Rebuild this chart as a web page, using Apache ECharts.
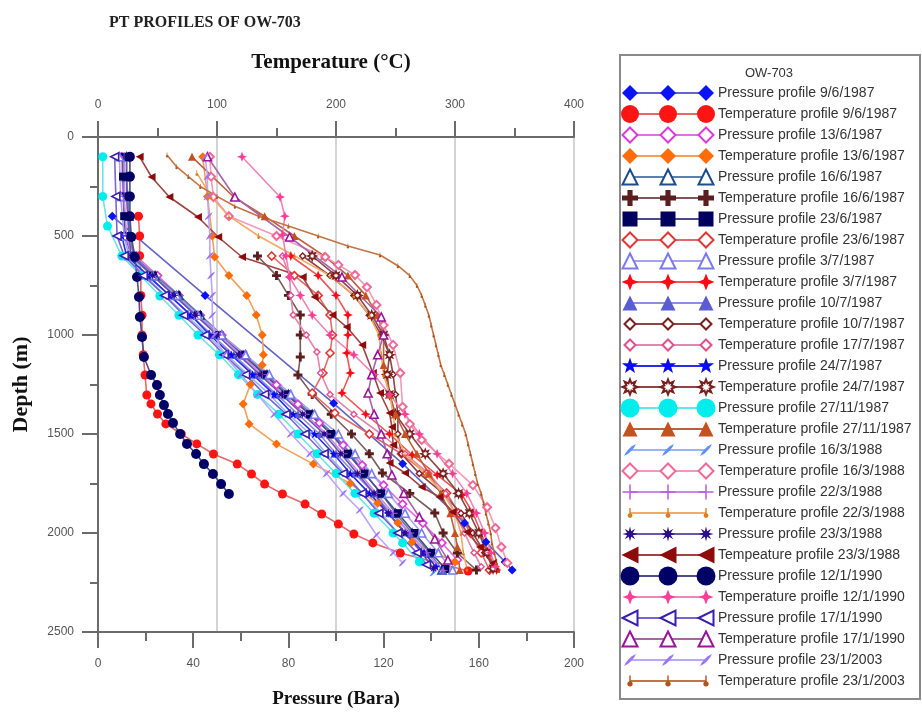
<!DOCTYPE html>
<html><head><meta charset="utf-8">
<script src="https://cdn.jsdelivr.net/npm/echarts@6/dist/echarts.min.js"></script>
<style>html,body{margin:0;padding:0;background:#fff}#c{width:922px;height:715px}</style>
</head><body><div id="c"></div>
<script>
// ---------- axis ticks ----------
const pressureTicks = [0, 40, 80, 120, 160, 200];
const temperatureTicks = [0, 100, 200, 300, 400];
const depthTicks = [0, 500, 1000, 1500, 2000, 2500];

// ---------- data: each point is [depth (m), value] ----------
const pres_9_6_1987 = [[400,6],[800,45],[1345,99],[1650,128],[1950,154],[2045,163],[2146,171],[2187,174]];
const temp_9_6_1987 = [[400,34],[500,35],[600,35],[700,36],[800,36],[900,37],[1000,37],[1100,38],[1202,39.5],[1303,41],[1348,44.5],[1399,50],[1449,57],[1500,70],[1550,83],[1601,97],[1652,117],[1702,129],[1753,140],[1803,155],[1854,174],[1904,188],[1955,202],[2005,215],[2050,231],[2101,254],[2192,311]];
const pres_13_6_1987 = [[100,10],[300,10.5],[500,11.5],[600,16],[700,25],[800,34],[900,43],[1000,52],[1100,61],[1200,70],[1252,75],[1350,84],[1444,93],[1556,103],[1657,111],[1758,120],[1854,128],[1950,136.5],[2050,144.5],[2136,151]];
const temp_13_6_1987 = [[100,88],[300,92],[500,96],[606,98],[700,110],[800,125],[899,133],[1000,138],[1100,139],[1152,138],[1250,128],[1348,122],[1449,127],[1551,150],[1652,181],[1750,212],[1850,235],[1950,252],[2045,264],[2146,300]];
const pres_16_6_1987 = [[100,12],[200,12],[300,12.5],[400,13],[500,13.5],[600,15],[700,24],[800,34],[900,43],[1000,52],[1100,62],[1200,71],[1300,80],[1400,90],[1500,99],[1600,106],[1700,112],[1800,119],[1900,125],[2000,132],[2101,139.5],[2187,144.5]];
const temp_16_6_1987 = [[601,134],[700,150],[800,160],[899,170],[1000,170],[1111,170],[1202,168],[1300,180],[1400,196],[1500,213],[1600,228],[1697,239],[1800,262],[1899,283],[2000,290],[2101,302],[2187,318]];
const pres_23_6_1987 = [[100,10.5],[200,10.5],[300,11],[400,11],[500,11.5],[600,14],[700,23],[800,33],[900,42],[1000,51],[1100,61],[1200,70],[1300,79],[1400,89],[1500,98],[1600,105],[1700,112],[1800,119],[1900,126],[2000,133],[2100,140],[2182,146]];
const temp_23_6_1987 = [[601,146],[700,165],[800,185],[899,195],[1000,197],[1091,195],[1192,189],[1293,180],[1394,199],[1500,228],[1600,255],[1700,276],[1798,293],[1899,303],[2000,313],[2100,322],[2187,329]];
const pres_3_7_1987 = [[100,9],[300,9.5],[500,11],[600,13],[700,23],[800,33],[900,42],[1000,52],[1100,62],[1200,72],[1300,81],[1400,91],[1500,101],[1600,108],[1700,115],[1800,122],[1900,129],[2000,136],[2100,143],[2187,149]];
const temp_3_7_1987 = [[601,162],[700,185],[800,200],[899,210],[1000,210],[1091,209],[1192,212],[1293,205],[1400,225],[1500,245],[1606,264],[1707,285],[1808,306],[1899,315],[2000,322],[2100,328],[2187,335]];
const pres_10_7_1987 = [[600,12],[700,21],[800,30],[900,39],[1000,48],[1100,57],[1200,66],[1300,75],[1400,84],[1500,93],[1600,100],[1700,108],[1800,116],[1900,123],[2000,131],[2100,138],[2190,145]];
const temp_10_7_1987 = [[601,172],[700,195],[800,215],[900,228],[1000,238],[1100,245],[1200,248],[1300,250],[1400,252],[1500,252],[1600,255],[1700,270],[1800,290],[1900,305],[2000,315],[2100,325],[2180,333]];
const temp_17_7_1987 = [[601,155],[707,161],[800,162],[899,164],[1000,175],[1086,184],[1192,187],[1300,195],[1400,215],[1500,238],[1600,258],[1700,278],[1800,292],[1900,300],[2000,308],[2100,316],[2170,322]];
const pres_24_7_1987 = [[500,10],[600,12],[700,21],[800,30],[900,39],[1000,47],[1100,56],[1200,65],[1300,74],[1400,82],[1500,91],[1600,99],[1700,106],[1800,114],[1900,122],[2000,129],[2100,137],[2170,142]];
const temp_24_7_1987 = [[601,180],[700,200],[800,218],[900,230],[1000,240],[1100,245],[1200,243],[1300,245],[1400,250],[1500,262],[1600,275],[1700,290],[1800,303],[1900,312],[2000,320],[2100,327],[2180,332]];
const pres_27_11_1987 = [[100,2],[300,2],[450,4],[601,10],[700,18],[803,26],[900,34],[1000,42],[1100,51],[1200,59],[1300,67],[1400,76],[1500,84],[1600,92],[1700,100],[1800,108],[1900,116],[2000,124],[2050,128],[2146,135]];
const temp_27_11_1987 = [[100,79],[303,114],[400,140],[500,165],[600,190],[700,210],[800,225],[900,235],[1000,240],[1152,240],[1300,245],[1400,250],[1500,258],[1600,268],[1700,278],[1800,288],[1900,296],[2000,300],[2071,302],[2187,304]];
const pres_16_3_1988 = [[600,11],[700,20],[800,28],[900,37],[1000,46],[1100,54],[1200,63],[1300,72],[1400,80],[1500,89],[1600,96],[1700,104],[1800,111],[1900,119],[2000,126],[2100,134],[2200,141]];
const temp_16_3_1988 = [[100,94],[200,95],[303,97],[400,110],[500,150],[606,191],[646,202],[697,216],[758,226],[848,234],[950,240],[1050,248],[1192,254],[1363,256],[1450,262],[1530,272],[1650,295],[1758,315],[1870,327],[1975,334],[2071,339],[2151,344]];
const pres_22_3_1988 = [[100,11],[300,11],[500,12],[600,14],[700,23],[800,32],[900,41],[1000,51],[1100,60],[1200,69],[1300,78],[1400,87],[1500,96],[1600,103],[1700,110],[1800,117],[1900,124],[2000,131],[2100,138],[2190,145]];
const temp_22_3_1988 = [[182,83],[300,95],[400,110],[500,135],[600,165],[700,195],[800,215],[900,228],[1000,236],[1100,238],[1200,240],[1300,245],[1400,248],[1500,250],[1600,258],[1700,275],[1800,290],[1900,300],[2000,305],[2100,307],[2180,310]];
const pres_23_3_1988 = [[100,12],[300,12],[500,13],[600,14],[700,23],[800,32],[900,41],[1000,50],[1100,59],[1200,68],[1300,77],[1400,86],[1500,95],[1600,102],[1700,109],[1800,116],[1900,122],[2000,129],[2100,136],[2180,141]];
const temp_23_3_1988 = [[100,35],[202,45],[303,60],[404,84],[505,101],[606,121],[707,172],[808,182],[899,197],[960,209],[1050,222],[1192,231],[1293,237],[1394,245],[1465,247],[1556,248],[1646,245],[1697,258],[1768,272],[1818,287],[1894,298],[1995,310],[2071,321],[2151,332]];
const pres_12_1_1990 = [[100,13.4],[200,13.4],[300,13.4],[400,13.4],[505,14],[606,15.5],[707,16.4],[808,17.2],[909,17.6],[1010,18.5],[1111,19.3],[1202,22.3],[1253,24.8],[1303,26],[1354,27.7],[1399,29.4],[1444,31.5],[1500,34.5],[1550,37.4],[1601,41.2],[1652,44.5],[1702,48.3],[1753,51.7],[1803,55]];
const temp_12_1_1990 = [[100,121],[303,153],[400,157],[495,155],[600,158],[707,161],[800,170],[900,180],[1000,195],[1100,215],[1200,232],[1300,245],[1400,258],[1500,270],[1600,285],[1700,298],[1800,310],[1900,318],[2000,325],[2100,330],[2170,334]];
const pres_17_1_1990 = [[100,7],[300,7.5],[500,8],[600,11],[700,19],[800,28],[900,36],[1000,45],[1100,53],[1200,62],[1300,70],[1400,79],[1500,87],[1600,95],[1700,103],[1800,111],[1900,118],[2000,126],[2100,134],[2160,138]];
const temp_17_1_1990 = [[100,92],[303,115],[505,161],[707,205],[909,238],[1000,240],[1100,235],[1200,230],[1293,227],[1400,232],[1500,238],[1600,243],[1707,247],[1800,257],[1919,270],[2030,283],[2136,294]];
const pres_23_1_2003 = [[100,45],[200,46],[300,46],[400,46.5],[500,47],[600,47],[700,47.5],[800,48],[900,48],[1000,49],[1100,53],[1200,60],[1300,67],[1400,74],[1500,81],[1600,89],[1700,96],[1800,103],[1884,110],[2010,117],[2100,124],[2150,128]];
const temp_23_1_2003 = [[91,58],[150,66],[200,76],[250,86],[300,100],[350,115],[400,135],[450,160],[500,185],[550,210],[596,237],[650,252],[700,262],[750,268],[800,272],[850,275],[900,278],[950,280],[1000,282],[1050,284],[1100,286],[1150,288],[1200,291],[1250,294],[1300,297],[1350,300],[1400,303],[1450,306],[1500,309],[1550,311],[1600,313],[1650,315],[1700,317],[1750,319],[1800,322],[1850,324],[1900,326],[1950,328],[2000,330],[2050,331],[2100,333],[2150,335],[2190,337]];

// ---------- legend order ----------
const legendNames = [
  'Pressure profile 9/6/1987','Temperature profile 9/6/1987',
  'Pressure profile 13/6/1987','Temperature profile 13/6/1987',
  'Pressure profile 16/6/1987','Temperature profile 16/6/1987',
  'Pressure profile 23/6/1987','Temperature profile 23/6/1987',
  'Pressure profile 3/7/1987','Temperature profile 3/7/1987',
  'Pressure profile 10/7/1987','Temperature profile 10/7/1987',
  'Temperature profile 17/7/1987','Pressure profile 24/7/1987',
  'Temperature profile 24/7/1987','Pressure profile 27/11/1987',
  'Temperature profile 27/11/1987','Pressure profile 16/3/1988',
  'Temperature profile 16/3/1988','Pressure profile 22/3/1988',
  'Temperature profile 22/3/1988','Pressure profile 23/3/1988',
  'Tempeature profile 23/3/1988','Pressure profile 12/1/1990',
  'Temperature proifle 12/1/1990','Pressure profile 17/1/1990',
  'Temperature profile 17/1/1990','Pressure profile 23/1/2003',
  'Temperature profile 23/1/2003'
];
const legendData = [
  pres_9_6_1987, temp_9_6_1987, pres_13_6_1987, temp_13_6_1987,
  pres_16_6_1987, temp_16_6_1987, pres_23_6_1987, temp_23_6_1987,
  pres_3_7_1987, temp_3_7_1987, pres_10_7_1987, temp_10_7_1987,
  temp_17_7_1987, pres_24_7_1987, temp_24_7_1987, pres_27_11_1987,
  temp_27_11_1987, pres_16_3_1988, temp_16_3_1988, pres_22_3_1988,
  temp_22_3_1988, pres_23_3_1988, temp_23_3_1988, pres_12_1_1990,
  temp_12_1_1990, pres_17_1_1990, temp_17_1_1990, pres_23_1_2003,
  temp_23_1_2003
];

// ---------- marker shapes (polygons in a 10x10 box) ----------
const POLY = {
  cross: [[3.4,0],[6.6,0],[6.6,3.4],[10,3.4],[10,6.6],[6.6,6.6],[6.6,10],[3.4,10],[3.4,6.6],[0,6.6],[0,3.4],[3.4,3.4]],
  plus: [[4.5,0],[5.5,0],[5.5,4.5],[10,4.5],[10,5.5],[5.5,5.5],[5.5,10],[4.5,10],[4.5,5.5],[0,5.5],[0,4.5],[4.5,4.5]],
  star4: [[5,0],[6.4,3.6],[10,5],[6.4,6.4],[5,10],[3.6,6.4],[0,5],[3.6,3.6]],
  star5: [[5,0],[6.18,3.38],[9.76,3.45],[6.9,5.62],[7.94,9.05],[5,7],[2.06,9.05],[3.1,5.62],[0.24,3.45],[3.82,3.38]],
  ltri: [[0,5],[10,0],[10,10]],
  aster: [[5,0],[5.8,3.1],[8.5,1.5],[6.9,4.2],[10,5],[6.9,5.8],[8.5,8.5],[5.8,6.9],[5,10],[4.2,6.9],[1.5,8.5],[3.1,5.8],[0,5],[3.1,4.2],[1.5,1.5],[4.2,3.1]],
  burst: [[5,0],[6,2.6],[8.5,1.5],[7.4,4],[10,5],[7.4,6],[8.5,8.5],[6,7.4],[5,10],[4,7.4],[1.5,8.5],[2.6,6],[0,5],[2.6,4],[1.5,1.5],[4,2.6]],
  feather: [[0.8,9.2],[1.8,7.2],[3.8,4.7],[6.3,2.3],[9.2,0.8],[8.2,2.8],[6.2,5.3],[3.7,7.7]]
};
const TICK_PATH = 'M4.4,0H5.6V6H4.4Z M2.6,7.6A2.4,2.4,0,1,0,7.4,7.6A2.4,2.4,0,1,0,2.6,7.6Z';

const S = (sym, fill, stroke, bw, line, size, lsize) => ({sym, fill, stroke, bw, line, size, lsize});
const legendStyles = [
  S('diamond','#0b12f5','#0b12f5',0,'#6363c8',9,16),
  S('circle','#ff1414','#ff1414',0,'#e26a6a',9,18),
  S('diamond','#ffffff','#d93ad9',1.6,'#df72df',8,15),
  S('diamond','#ff6c0a','#ff6c0a',0,'#f2a05a',9,16),
  S('triangle','#ffffff','#1d4b8c',1.6,'#5f7fae',8,15),
  S('cross','#5b1e1e','#5b1e1e',0,'#7d5a5a',9,16),
  S('rect','#00005e','#00005e',0,'#4a4a88',8,15),
  S('diamond','#ffffff','#e23535',1.6,'#e26a6a',8,15),
  S('triangle','#ffffff','#7b7bf0',1.6,'#a3a3f2',8,15),
  S('star4','#ff0a14','#ff0a14',0,'#f05555',10,17),
  S('triangle','#5c5cd2','#5c5cd2',0,'#8d8de2',8,15),
  S('diamond','#ffffff','#7d1e1e',1.4,'#8c4444',6,11),
  S('diamond','#ffffff','#e0508e',1.4,'#e585ad',6,11),
  S('star5','#0a0af5','#0a0af5',0,'#2a2af0',9,17),
  S('burst','#ffffff','#7a1d1d',1.4,'#8c4747',9,15),
  S('circle','#00eded','#00eded',0,'#66e6e6',9,19),
  S('triangle','#c8501e','#c8501e',0,'#c0603a',8,15),
  S('feather','#5e90ff','#5e90ff',0,'#95b6ff',8,14),
  S('diamond','#ffffff','#f06a96',2,'#f39ab8',8,15),
  S('plus','#b65ce6','#b65ce6',0,'#c88be8',9,15),
  S('tick','#e27a1e','#e27a1e',0,'#f2aa66',6,10),
  S('aster','#2c0c8e','#2c0c8e',0,'#6a55b0',9,15),
  S('ltri','#8e0b0b','#8e0b0b',0,'#a04343',8,17),
  S('circle','#000066','#000066',0,'#4c4c8e',10,19),
  S('star4','#ff3d96','#ff3d96',0,'#f284b4',10,15),
  S('ltri','#ffffff','#3b1db2',1.6,'#7b63d2',8,15),
  S('triangle','#ffffff','#9b139b',1.6,'#a865a8',8,15),
  S('feather','#9c74ff','#9c74ff',0,'#bca6ff',8,14),
  S('tick','#b4521c','#b4521c',0,'#c47444',5,11)
];

function echartsSymbol(st) {
  if (st.sym === 'tick') return 'path://' + TICK_PATH;
  if (POLY[st.sym]) return 'path://M' + POLY[st.sym].map(p => p.join(',')).join('L') + 'Z';
  return st.sym;
}

const series = legendNames.map((name, i) => {
  const st = legendStyles[i];
  const isTemp = name.startsWith('Temp');
  return {
    name, type: 'line',
    xAxisIndex: isTemp ? 1 : 0, yAxisIndex: 0,
    data: legendData[i].map(d => [d[1], d[0]]),
    symbol: echartsSymbol(st), symbolSize: st.size, symbolKeepAspect: true,
    showAllSymbol: true,
    lineStyle: {color: st.line, width: 1.6},
    itemStyle: {color: st.fill, borderColor: st.stroke, borderWidth: st.bw},
    emphasis: {disabled: true},
    z: 3
  };
});

// ---------- legend drawn as graphic (3 markers per row) ----------
function legendSymbol(st, cx, cy, z) {
  const s = st.lsize;
  const style = {fill: st.fill, stroke: st.stroke, lineWidth: st.bw ? 2 : 0};
  if (st.sym === 'circle') return [{type:'circle', shape:{cx, cy, r:s/2}, style, z}];
  if (st.sym === 'rect') return [{type:'rect', shape:{x:cx-s/2, y:cy-s/2, width:s, height:s}, style, z}];
  if (st.sym === 'diamond') return [{type:'polygon', shape:{points:[[cx,cy-s/2],[cx+s/2,cy],[cx,cy+s/2],[cx-s/2,cy]]}, style, z}];
  if (st.sym === 'triangle') return [{type:'polygon', shape:{points:[[cx,cy-s/2],[cx+s/2,cy+s/2],[cx-s/2,cy+s/2]]}, style, z}];
  if (st.sym === 'tick') return [
    {type:'rect', shape:{x:cx-0.7, y:cy-s/2, width:1.4, height:s*0.6}, style:{fill:st.fill}, z},
    {type:'circle', shape:{cx, cy:cy+s*0.26, r:s*0.24}, style:{fill:st.fill}, z}
  ];
  const pts = POLY[st.sym].map(p => [cx - s/2 + p[0]*s/10, cy - s/2 + p[1]*s/10]);
  return [{type:'polygon', shape:{points:pts}, style, z}];
}
const legendFont = '14px "Liberation Sans", Arial, sans-serif';
const graphic = [
  {type:'rect', shape:{x:620, y:55, width:300, height:644}, style:{fill:'#fff', stroke:'#8a8a8a', lineWidth:2}, z:10},
  {type:'text', x:769, y:73, style:{text:'OW-703', font:'13px "Liberation Sans", Arial, sans-serif', fill:'#333', align:'center', verticalAlign:'middle', textAlign:'center', textVerticalAlign:'middle'}, z:11}
];
legendNames.forEach((name, i) => {
  const st = legendStyles[i];
  const y = 93 + i * 21;
  graphic.push({type:'line', shape:{x1:630, y1:y, x2:706, y2:y}, style:{stroke: st.line, lineWidth:2}, z:11});
  [630, 668, 706].forEach(x => { legendSymbol(st, x, y, 12).forEach(el => graphic.push(el)); });
  graphic.push({type:'text', x:718, y:y, style:{text:name, font:legendFont, fill:'#333', align:'left', verticalAlign:'middle', textAlign:'left', textVerticalAlign:'middle'}, z:12});
});

const axisColor = '#6b6b6b';
const labelStyle = {color:'#555', fontSize:12, fontFamily:'"Liberation Sans", Arial, sans-serif'};
const nameStyle = {color:'#111', fontWeight:'bold', fontFamily:'"Liberation Serif", "Times New Roman", serif'};

const option = {
  animation: false,
  backgroundColor: '#fff',
  title: {
    text: 'PT PROFILES OF OW-703', left: 104, top: 10,
    textStyle: {color:'#222', fontSize:16, fontWeight:'bold', fontFamily:'"Liberation Serif", "Times New Roman", serif'}
  },
  grid: {left:98, top:137, width:476, height:495, show:true, borderColor:axisColor, borderWidth:1.5, backgroundColor:'transparent'},
  xAxis: [
    {
      type:'value', position:'bottom',
      min: pressureTicks[0], max: pressureTicks[pressureTicks.length-1], interval: pressureTicks[1]-pressureTicks[0],
      name:'Pressure (Bara)', nameLocation:'middle', nameGap:58, nameTextStyle:Object.assign({fontSize:19}, nameStyle),
      axisLine:{show:true, onZero:false, lineStyle:{color:axisColor, width:2}},
      axisTick:{show:true, length:16, lineStyle:{color:axisColor, width:2}},
      minorTick:{show:true, splitNumber:2, length:9, lineStyle:{color:axisColor, width:2}},
      axisLabel:Object.assign({margin:26, formatter: v => String(v)}, labelStyle),
      splitLine:{show:false}
    },
    {
      type:'value', position:'top',
      min: temperatureTicks[0], max: temperatureTicks[temperatureTicks.length-1], interval: temperatureTicks[1]-temperatureTicks[0],
      name:'Temperature (°C)', nameLocation:'middle', nameGap:64, nameTextStyle:Object.assign({fontSize:21, padding:[0,10,0,0]}, nameStyle),
      axisLine:{show:true, onZero:false, lineStyle:{color:axisColor, width:2}},
      axisTick:{show:true, length:16, lineStyle:{color:axisColor, width:2}},
      minorTick:{show:true, splitNumber:2, length:9, lineStyle:{color:axisColor, width:2}},
      axisLabel:Object.assign({margin:26, formatter: v => String(v)}, labelStyle),
      splitLine:{show:true, lineStyle:{color:'#d4d4d4', width:2}}
    }
  ],
  yAxis: [{
    type:'value', inverse:true,
    min: depthTicks[0], max: depthTicks[depthTicks.length-1], interval: depthTicks[1]-depthTicks[0],
    name:'Depth (m)', nameLocation:'middle', nameGap:66, nameRotate:90, nameTextStyle:Object.assign({fontSize:22}, nameStyle),
    axisLine:{show:true, onZero:false, lineStyle:{color:axisColor, width:2}},
    axisTick:{show:true, length:16, lineStyle:{color:axisColor, width:2}},
    minorTick:{show:true, splitNumber:2, length:8, lineStyle:{color:axisColor, width:2}},
    axisLabel:Object.assign({margin:24, formatter: v => String(v)}, labelStyle),
    splitLine:{show:false}
  }],
  series,
  graphic
};
const chart = echarts.init(document.getElementById('c'), null, {renderer:'canvas'});
chart.setOption(option);
</script>
</body></html>
